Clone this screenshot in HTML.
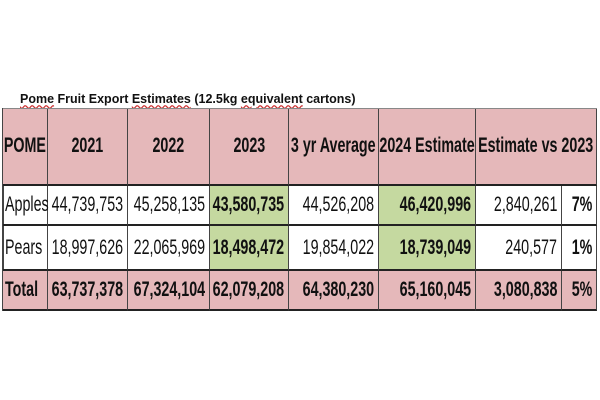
<!DOCTYPE html>
<html><head><style>
body{margin:0;width:600px;height:400px;background:#fff;position:relative;overflow:hidden;font-family:"Liberation Sans",sans-serif}
.t{position:absolute;left:20px;top:92px;font:bold 12.5px "Liberation Sans",sans-serif;color:#111}
.c{position:absolute;box-sizing:border-box;display:flex;align-items:center;color:#111;font-size:21px;white-space:nowrap;border-right:1.5px solid #444;border-bottom:2px solid #222}
.p{background:#e5b8ba}.g{background:#c5d9a0}
.h{justify-content:center;font-weight:bold}
.r{justify-content:flex-end;padding-right:4px}
.b{font-weight:bold}
.s{display:inline-block;transform:scaleX(0.68)}
</style></head><body>
<div class="t"><u style="text-decoration-style:wavy;text-decoration-color:#c33">Pome</u> Fruit Export <u style="text-decoration-style:wavy;text-decoration-color:#c33">Estimates</u> (12.5kg <u style="text-decoration-style:wavy;text-decoration-color:#c33">equivalent</u> cartons)</div>
<div style="position:absolute;left:2px;top:108px;width:1.5px;height:203px;background:#444"></div>
<div id="g"></div>
<script>
const xs=[3,48,128,210,289,379,476,562,597];
const ys=[108,186,226,271,311];
const rows=[
 [["POME","p h"],["2021","p h"],["2022","p h"],["2023","p h"],["3 yr Average","p h"],["2024 Estimate","p h"],["Estimate vs 2023","p h",2]],
 [["Apples",""],["44,739,753","r"],["45,258,135","r"],["43,580,735","g r b"],["44,526,208","r"],["46,420,996","g r b"],["2,840,261","r"],["7%","r b"]],
 [["Pears",""],["18,997,626","r"],["22,065,969","r"],["18,498,472","g r b"],["19,854,022","r"],["18,739,049","g r b"],["240,577","r"],["1%","r b"]],
 [["Total","p b"],["63,737,378","p r b"],["67,324,104","p r b"],["62,079,208","p r b"],["64,380,230","p r b"],["65,160,045","p r b"],["3,080,838","p r b"],["5%","p r b"]]
];
let h="";
rows.forEach((r,ri)=>{let ci=0;r.forEach(c=>{const sp=c[2]||1;const x0=xs[ci],x1=xs[ci+sp];
let st=`left:${x0}px;top:${ys[ri]}px;width:${x1-x0}px;height:${ys[ri+1]-ys[ri]}px;`;
let o="left";
if(c[1].indexOf('r')>=0)o="right";else if(c[1].indexOf('h')>=0)o="center";else st+="padding-left:2px;";
h+=`<div class="c ${c[1]}" style="${st}"><span class="s" style="transform-origin:${o}">${c[0]}</span></div>`;ci+=sp;});});
document.getElementById('g').innerHTML=h;
</script>
<div style="position:absolute;left:3px;top:108px;width:594px;height:1px;background:#888"></div>
</body></html>
